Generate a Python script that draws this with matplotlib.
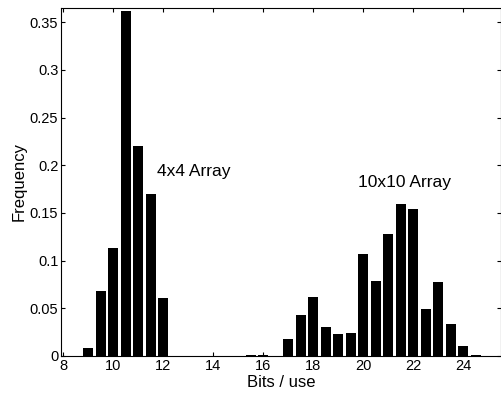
import matplotlib
matplotlib.use("Agg")
import matplotlib.pyplot as plt
import numpy as np

plt.rcParams["font.family"] = ["Liberation Sans", "DejaVu Sans"]

# bin centres (bits / use) and frequencies
small_bits = [9.0, 9.5, 10.0, 10.5, 11.0, 11.5, 12.0]
small_freq = [0.008, 0.068, 0.113, 0.362, 0.220, 0.170, 0.061]

large_bits = [15.5, 16.0, 17.0, 17.5, 18.0, 18.5, 19.0, 19.5, 20.0, 20.5,
              21.0, 21.5, 22.0, 22.5, 23.0, 23.5, 24.0, 24.5]
large_freq = [0.0008, 0.0008, 0.018, 0.043, 0.062, 0.030, 0.023, 0.024, 0.107, 0.079,
              0.128, 0.159, 0.154, 0.049, 0.078, 0.033, 0.010, 0.001]

x_ticks = [8, 10, 12, 14, 16, 18, 20, 22, 24]
y_ticks = [0, 0.05, 0.1, 0.15, 0.2, 0.25, 0.3, 0.35]
y_labels = ["0", "0.05", "0.1", "0.15", "0.2", "0.25", "0.3", "0.35"]

fig = plt.figure(figsize=(5.01, 3.95), dpi=100)
ax = fig.add_axes([0.122, 0.099, 0.878, 0.881])

ax.bar(small_bits, small_freq, width=0.4, color="black")
ax.bar(large_bits, large_freq, width=0.4, color="black")

ax.set_xlim(7.92, 25.5)
ax.set_ylim(0, 0.365)
ax.set_xticks(x_ticks)
ax.set_yticks(y_ticks)
ax.set_yticklabels(y_labels)
ax.tick_params(direction="in", length=3, labelsize=10.5, pad=2,
               top=True, right=True)
for s in ax.spines.values():
    s.set_linewidth(0.8)

ax.text(11.76, 0.193, "4x4 Array", fontsize=12.5, va="center", ha="left")
ax.text(19.8, 0.182, "10x10 Array", fontsize=12.5, va="center", ha="left")

ax.set_xlabel("Bits / use", fontsize=12, labelpad=1.5)
ax.set_ylabel("Frequency", fontsize=12, labelpad=2)

fig.savefig("out.png", dpi=100)
